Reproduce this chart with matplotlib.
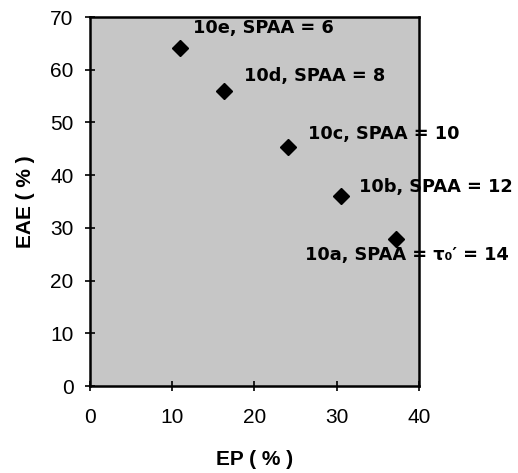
import matplotlib
matplotlib.use("Agg")
import matplotlib.pyplot as plt

# Data
ep = [11.0, 16.3, 24.1, 30.5, 37.2]
eae = [64.1, 55.9, 45.4, 36.1, 27.9]
labels = ["10e, SPAA = 6", "10d, SPAA = 8", "10c, SPAA = 10",
          "10b, SPAA = 12", "10a, SPAA = \u03c4\u2080\u2032 = 14"]
label_x = [12.5, 18.8, 26.5, 32.7, 26.1]
label_y = [67.9, 58.8, 47.9, 37.8, 24.8]
xticks = [0, 10, 20, 30, 40]
yticks = [0, 10, 20, 30, 40, 50, 60, 70]

fig = plt.figure(figsize=(5.18, 4.73), dpi=100)
ax = fig.add_axes([0.1728, 0.1839, 0.6365, 0.7801])
ax.set_facecolor("#c6c6c6")

ax.plot(ep, eae, linestyle="none", marker="D", markersize=8.5,
        color="black", zorder=3)

for t, x, y in zip(labels, label_x, label_y):
    ax.text(x, y, t, fontsize=12.8, fontweight="bold",
            family=["DejaVu Sans"], va="center", ha="left",
            clip_on=False, zorder=4)

ax.set_xlim(0, 40)
ax.set_ylim(0, 70)
ax.set_xticks(xticks)
ax.set_yticks(yticks)
ax.tick_params(direction="inout", length=7, width=1.2, labelsize=15)
ax.tick_params(axis="x", pad=12)
ax.tick_params(axis="y", pad=8)
for lab in ax.get_xticklabels() + ax.get_yticklabels():
    lab.set_fontfamily("Liberation Sans")
for s in ax.spines.values():
    s.set_linewidth(1.8)
    s.set_color("black")

ax.set_xlabel("EP ( % )", fontsize=15, fontweight="bold",
              family="Liberation Sans", labelpad=17)
ax.set_ylabel("EAE ( % )", fontsize=15, fontweight="bold",
              family="Liberation Sans", labelpad=11)

fig.savefig("out.png", dpi=100)
